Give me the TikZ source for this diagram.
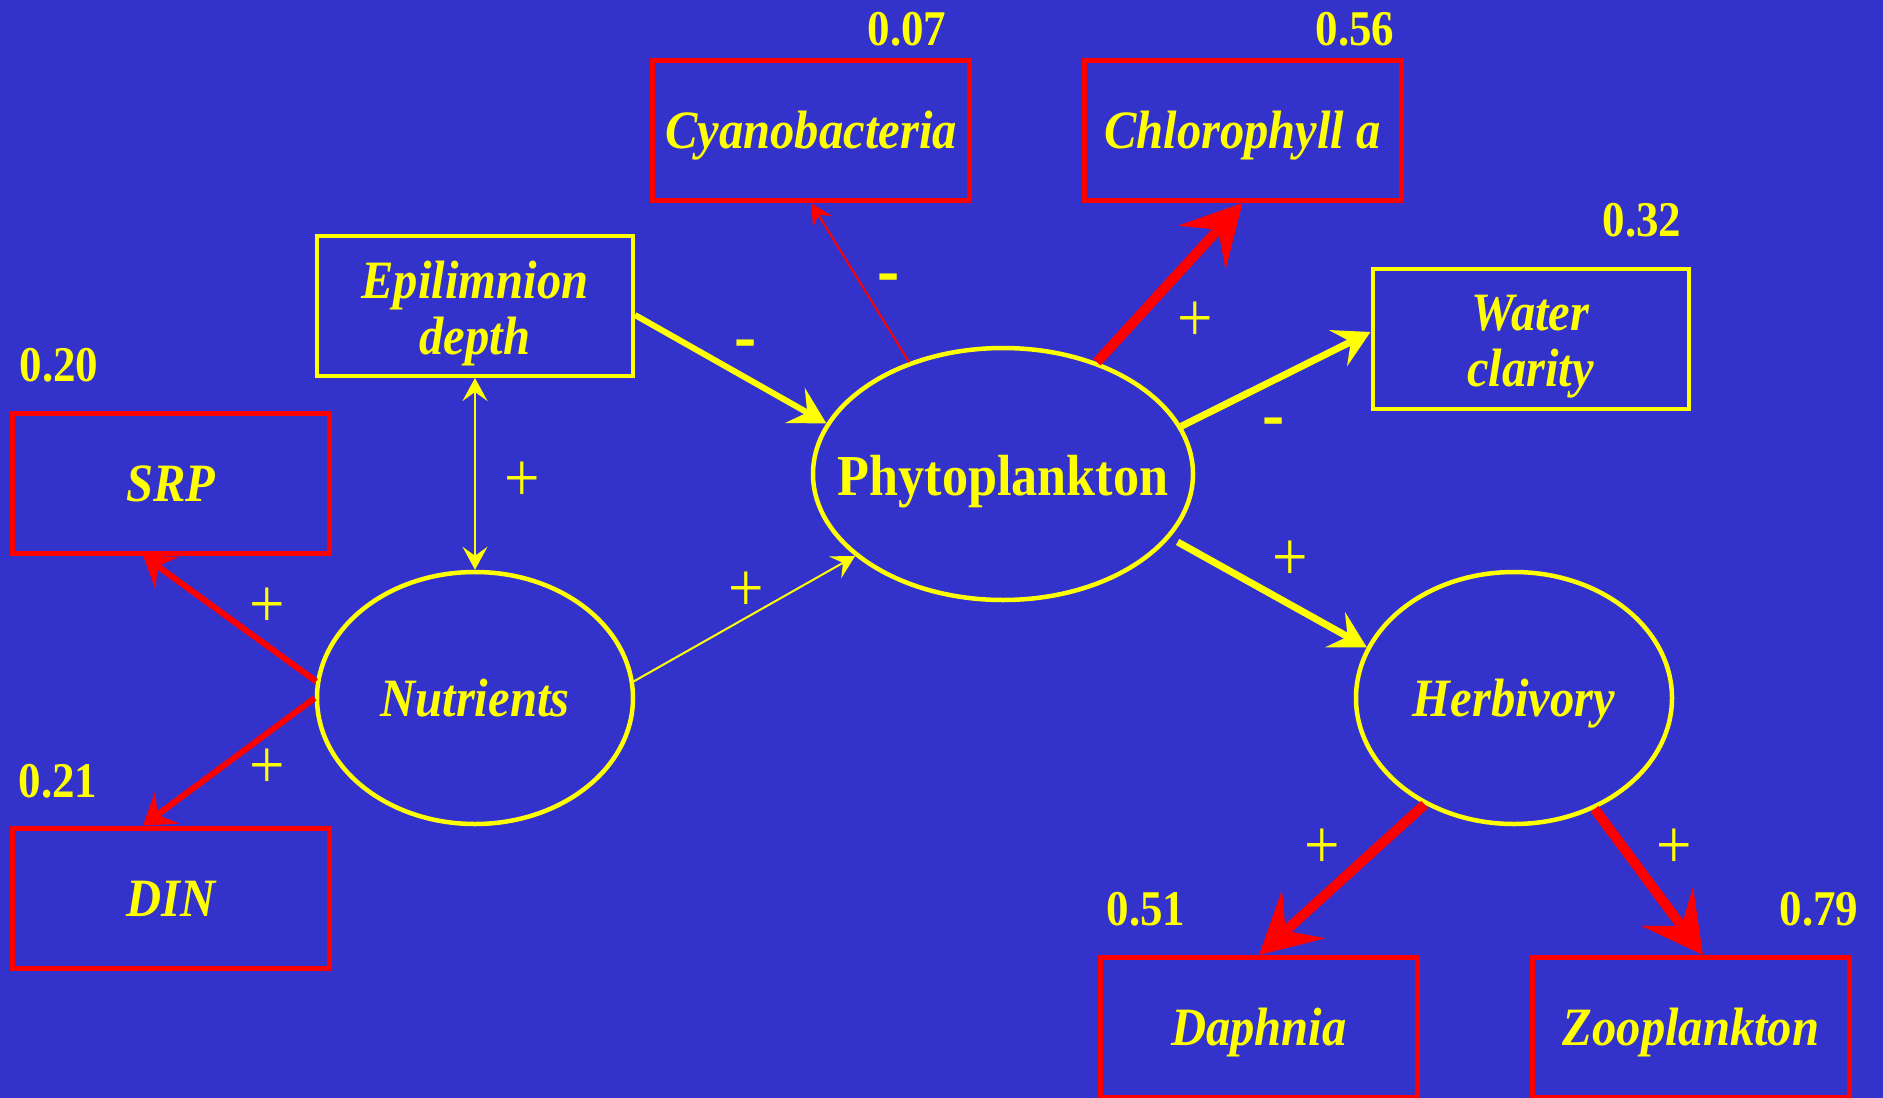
\documentclass[tikz,border=0pt]{standalone}
\usepackage{fontspec}
\setmainfont{Liberation Serif}[FakeStretch=0.9]
\usetikzlibrary{arrows.meta,shapes.geometric}
\definecolor{bg}{RGB}{51,51,204}
\definecolor{yel}{RGB}{255,255,0}
\definecolor{rd}{RGB}{255,0,0}
\tikzset{
  boxfont/.style={font=\fontsize{54}{56}\selectfont\bfseries\itshape},
  redbox/.style={draw=rd, line width=5pt, minimum width=317pt, minimum height=140pt, inner sep=0pt, text=yel, boxfont, text height=36pt, text depth=0pt},
  yelbox/.style={draw=yel, line width=4pt, minimum width=316pt, minimum height=140pt, inner sep=0pt},
  boxtext/.style={text=yel, inner sep=0pt, boxfont, align=center},
  ell/.style={draw=yel, line width=4.5pt, ellipse, inner sep=0pt},
  elltext/.style={text=yel, inner sep=0pt, boxfont, text height=36pt, text depth=0pt},
  numlbl/.style={text=yel, inner sep=0pt, font=\fontsize{50}{52}\selectfont\bfseries},
  plus/.style={text=yel, inner sep=0pt, font=\fontsize{70}{70}\selectfont},
  minus/.style={text=yel, inner sep=0pt, font=\fontsize{74}{74}\selectfont\bfseries},
  bigred/.style={draw=rd, line width=10pt, -{Stealth[length=60pt,width=64pt,inset=24pt]}},
  midred/.style={draw=rd, line width=6pt, -{Stealth[length=30pt,width=40pt,inset=12pt]}},
  thinred/.style={draw=rd, line width=2pt, -{Stealth[length=22pt,width=22pt,inset=8pt]}},
  medyel/.style={draw=yel, line width=7pt, -{Stealth[length=36pt,width=40pt,inset=14pt]}},
  thinyel/.style={draw=yel, line width=2pt, -{Stealth[length=23pt,width=25pt,inset=9pt]}},
}
\begin{document}
\begin{tikzpicture}[x=1pt,y=-1pt]
\useasboundingbox (0,0) rectangle (1883,1098);
\fill[bg] (0,0) rectangle (1883,1098);
\clip (0,0) rectangle (1883,1098);

% boxes
\node[redbox] (cyano) at (811,130.5) {Cyanobacteria};
\node[redbox] (chl) at (1242.5,130.5) {Chlorophyll a};
\node[yelbox] (epi) at (475,306) {};
\node[boxtext] (epiT) at ([yshift=-8pt]epi.center) {Epilimnion\\depth};
\node[yelbox] (water) at (1530.5,339) {};
\node[boxtext] (waterT) at ([yshift=-8pt]water.center) {Water\\clarity};
\node[redbox] (srp) at (171,483) {SRP};
\node[redbox] (din) at (171,898) {DIN};
\node[redbox] (daph) at (1259,1027.5) {Daphnia};
\node[redbox] (zoo) at (1691,1027.5) {Zooplankton};

% ellipses
\node[ell, minimum width=380pt, minimum height=252pt] (phy) at (1003,474) {};
\node[text=yel, inner sep=0pt, font=\fontsize{58}{60}\selectfont\bfseries, text height=42pt, text depth=0pt] (phyT) at (phy) {Phytoplankton};
\node[ell, minimum width=316pt, minimum height=252pt] (nut) at (475,698) {};
\node[elltext] (nutT) at (nut) {Nutrients};
\node[ell, minimum width=316pt, minimum height=252pt] (herb) at (1514,698) {};
\node[elltext] (herbT) at (herb) {Herbivory};

% numbers
\node[numlbl] (n1) at (907,29) {0.07};
\node[numlbl] (n2) at (1355,29) {0.56};
\node[numlbl] (n3) at (1642,220) {0.32};
\node[numlbl] (n4) at (59,365) {0.20};
\node[numlbl] (n5) at (58,781) {0.21};
\node[numlbl] (n6) at (1146,909) {0.51};
\node[numlbl] (n7) at (1819,909) {0.79};

% connectors
\draw[medyel, line width=6pt] ([yshift=-9pt]epi.east) -- (phy.164);
\draw[thinyel, {Stealth[length=23pt,width=25pt,inset=9pt]}-{Stealth[length=23pt,width=25pt,inset=9pt]}] (epi.south) -- (nut.north);
\draw[thinyel] (nut.6) -- (phy.209);
\draw[thinred] (phy.130) -- (cyano.south);
\draw[bigred] (phy.50) -- (chl.south);
\draw[medyel] (phy.15) -- ([yshift=7pt]water.west);
\draw[medyel] ([xshift=8pt,yshift=-4pt]phy.-21) -- (herb.161);
\draw[midred] (nut.174) -- ([xshift=-28pt]srp.south);
\draw[midred] (nut.180) -- ([xshift=-28pt]din.north);
\draw[bigred] (herb.230) -- (daph.north);
\draw[bigred] (herb.-54) -- ([xshift=12pt]zoo.north);

% signs
\node[plus] (p1) at (522,482) {+};
\node[plus] (p2) at (267,608) {+};
\node[plus] (p3) at (267,769) {+};
\node[plus] (p4) at (746,592) {+};
\node[plus] (p5) at (1195,322) {+};
\node[plus] (p6) at (1290,561) {+};
\node[plus] (p7) at (1322,849) {+};
\node[plus] (p8) at (1674,849) {+};
\node[minus] (m1) at (746,350) {-};
\node[minus] (m2) at (889,284) {-};
\node[minus] (m3) at (1274,428) {-};
\end{tikzpicture}
\end{document}
